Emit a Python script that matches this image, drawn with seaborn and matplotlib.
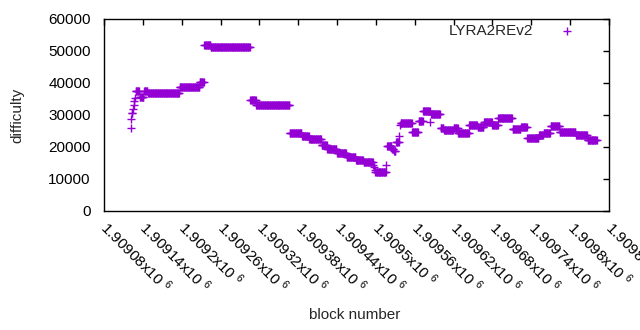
import numpy as np
import pandas as pd
import seaborn as sns
import matplotlib.pyplot as plt

run_start = [1909121, 1909122, 1909123, 1909125, 1909126, 1909127, 1909128,
             1909129, 1909135, 1909142, 1909148, 1909197, 1909228, 1909235,
             1909245, 1909306, 1909315, 1909367, 1909386, 1909397, 1909416,
             1909425, 1909440, 1909455, 1909469, 1909481, 1909496, 1909497,
             1909498, 1909499, 1909516, 1909517, 1909525, 1909528, 1909531,
             1909536, 1909537, 1909538, 1909556, 1909566, 1909573, 1909584,
             1909585, 1909600, 1909605, 1909620, 1909627, 1909644, 1909657,
             1909667, 1909680, 1909689, 1909711, 1909724, 1909734, 1909752,
             1909759, 1909770, 1909784, 1909809, 1909827]
run_end = [1909121, 1909122, 1909124, 1909125, 1909126, 1909127, 1909128,
           1909134, 1909141, 1909147, 1909196, 1909227, 1909234, 1909244,
           1909305, 1909314, 1909366, 1909385, 1909396, 1909415, 1909424,
           1909439, 1909454, 1909468, 1909480, 1909495, 1909496, 1909497,
           1909498, 1909515, 1909516, 1909524, 1909527, 1909530, 1909535,
           1909536, 1909537, 1909555, 1909565, 1909572, 1909583, 1909584,
           1909599, 1909604, 1909619, 1909626, 1909643, 1909656, 1909666,
           1909679, 1909688, 1909710, 1909723, 1909733, 1909751, 1909758,
           1909769, 1909783, 1909808, 1909826, 1909841]
run_diff = [25800, 28600, 30500, 31800, 33000, 34300, 35300,
            37400, 35500, 37600, 37000, 38600, 40400, 51900,
            51100, 34700, 33000, 24300, 23500, 22400, 20700,
            19300, 18000, 17000, 15800, 15200, 14500, 13600,
            12900, 12300, 14300, 20300, 19400, 18600, 21500,
            23400, 26800, 27400, 24700, 28000, 31100, 27700,
            30200, 25800, 25400, 26000, 24500, 26900, 26300,
            27900, 26900, 29000, 25500, 26200, 22700, 23600,
            24300, 26500, 24800, 23750, 22300]

x_ticks = [1909080, 1909140, 1909200, 1909260, 1909320, 1909380, 1909440,
           1909500, 1909560, 1909620, 1909680, 1909740, 1909800, 1909860]
y_ticks = [0, 10000, 20000, 30000, 40000, 50000, 60000]

blocks, diffs = [], []
for s, e, d in zip(run_start, run_end, run_diff):
    for b in range(s, e + 1):
        blocks.append(b)
        diffs.append(d)
df = pd.DataFrame({"block number": blocks, "difficulty": diffs})

sns.set_style("white")
plt.rcParams['font.family'] = ['Liberation Sans', 'DejaVu Sans']
plt.rcParams['mathtext.fontset'] = 'custom'
plt.rcParams['mathtext.rm'] = 'Liberation Sans'
plt.rcParams['mathtext.it'] = 'Liberation Sans'

fs = 11
fig = plt.figure(figsize=(6.4, 3.3), dpi=100)
ax = fig.add_axes([104 / 640, 1 - 211 / 330, 505 / 640, 192 / 330])

sns.scatterplot(data=df, x="block number", y="difficulty", marker="+",
                color="#9400D3", s=32, linewidth=1.0, label="LYRA2REv2", ax=ax)

ax.set_xlim(1909080, 1909860)
ax.set_ylim(0, 60000)
ax.set_xticks(x_ticks)
ax.set_xticklabels([f"{v / 1e6:.6g}x10 $^{{6}}$" for v in x_ticks],
                   rotation=-45, ha="left", va="center", rotation_mode="anchor")
ax.set_yticks(y_ticks)
ax.set_yticklabels([str(v) for v in y_ticks])
ax.tick_params(direction="in", length=4, width=1, top=True, right=True,
               labelsize=fs, colors="black")
ax.tick_params(axis="y", pad=9.5)
ax.tick_params(axis="x", pad=10)
for sp in ax.spines.values():
    sp.set_color("black")
    sp.set_linewidth(1)

ax.set_xlabel("block number", fontsize=fs)
ax.set_ylabel("difficulty", fontsize=fs)
ax.xaxis.set_label_coords(0.497, -0.505)
ax.yaxis.set_label_coords(-0.158, 0.5)

ax.legend(loc="upper right", bbox_to_anchor=(0.9466, 0.974), frameon=False,
          markerfirst=False, borderaxespad=0, borderpad=0, handlelength=2,
          handletextpad=1.22, fontsize=fs)

plt.savefig("out.png", dpi=100)
